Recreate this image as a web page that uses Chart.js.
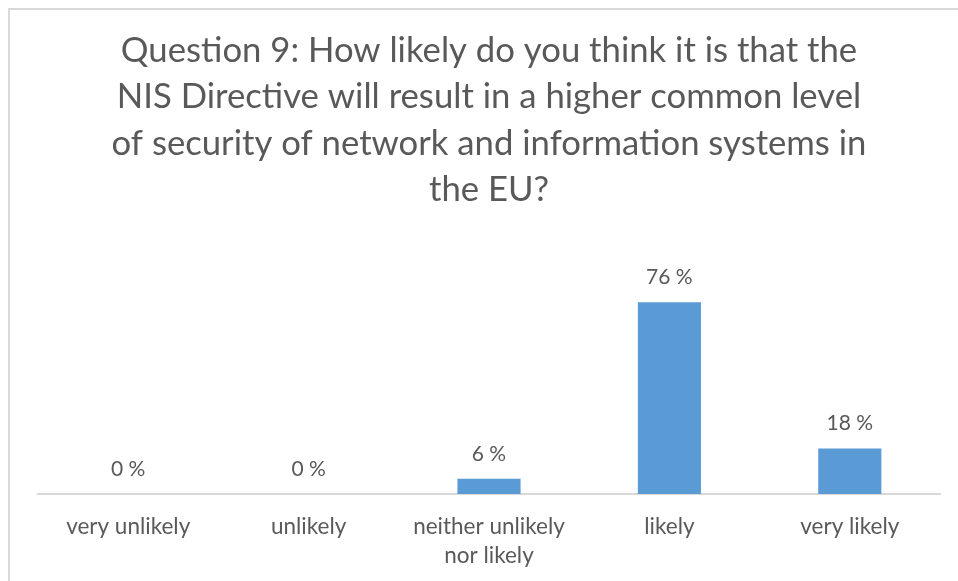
<!DOCTYPE html>
<html>
<head>
<meta charset="utf-8">
<script src="https://cdn.jsdelivr.net/npm/chart.js@4/dist/chart.umd.min.js"></script>
<style>
  html, body { margin: 0; padding: 0; background: #ffffff; }
  #wrap { width: 958px; height: 581px; position: relative; }
</style>
</head>
<body>
<div id="wrap"><canvas id="chart" width="958" height="581"></canvas></div>
<script>
// Survey answers and their share of respondents (%)
const categories = [
  'very unlikely',
  'unlikely',
  ['neither unlikely', 'nor likely'],
  'likely',
  'very likely'
];
const shares = [0, 0, 6, 76, 18];
const titleLines = [
  'Question 9: How likely do you think it is that the',
  'NIS Directive will result in a higher common level',
  'of security of network and information systems in',
  'the EU?'
];

const FONT = 'Lato, "Open Sans", sans-serif';
const TEXT = '#595959';

// Thin frame around the chart panel
const framePlugin = {
  id: 'frame',
  beforeDraw(chart) {
    const ctx = chart.ctx;
    ctx.save();
    ctx.fillStyle = '#ffffff';
    ctx.fillRect(0, 0, chart.width, chart.height);
    ctx.strokeStyle = '#d9d9d9';
    ctx.lineWidth = 2;
    ctx.strokeRect(9, 9, chart.width + 40, chart.height + 40);
    ctx.restore();
  }
};

// Value labels above each bar
const valueLabels = {
  id: 'valueLabels',
  afterDatasetsDraw(chart) {
    const ctx = chart.ctx;
    const meta = chart.getDatasetMeta(0);
    ctx.save();
    ctx.font = '21px ' + FONT;
    ctx.fillStyle = TEXT;
    ctx.textAlign = 'center';
    ctx.textBaseline = 'middle';
    meta.data.forEach((bar, i) => {
      ctx.fillText(shares[i] + ' %', bar.x, bar.y - 25);
    });
    ctx.restore();
  }
};

new Chart(document.getElementById('chart'), {
  type: 'bar',
  data: {
    labels: categories,
    datasets: [{
      data: shares,
      backgroundColor: '#5b9bd5',
      borderWidth: 0,
      barPercentage: 0.35,
      categoryPercentage: 1.0
    }]
  },
  options: {
    responsive: false,
    animation: false,
    layout: { padding: { left: 38, right: 18, top: 28, bottom: -7 } },
    plugins: {
      legend: { display: false },
      tooltip: { enabled: false },
      title: {
        display: true,
        text: titleLines,
        color: TEXT,
        font: { family: FONT, size: 34.7, weight: 'normal', lineHeight: 1.33 },
        padding: { top: 0, bottom: 29 }
      }
    },
    scales: {
      x: {
        grid: { display: false, drawTicks: false },
        border: { display: true, color: '#d9d9d9', width: 2 },
        ticks: {
          color: TEXT,
          font: { family: FONT, size: 22.5, lineHeight: 1.29 },
          padding: 18,
          maxRotation: 0,
          autoSkip: false
        }
      },
      y: {
        display: false,
        min: 0,
        max: 100
      }
    }
  },
  plugins: [framePlugin, valueLabels]
});
</script>
</body>
</html>
